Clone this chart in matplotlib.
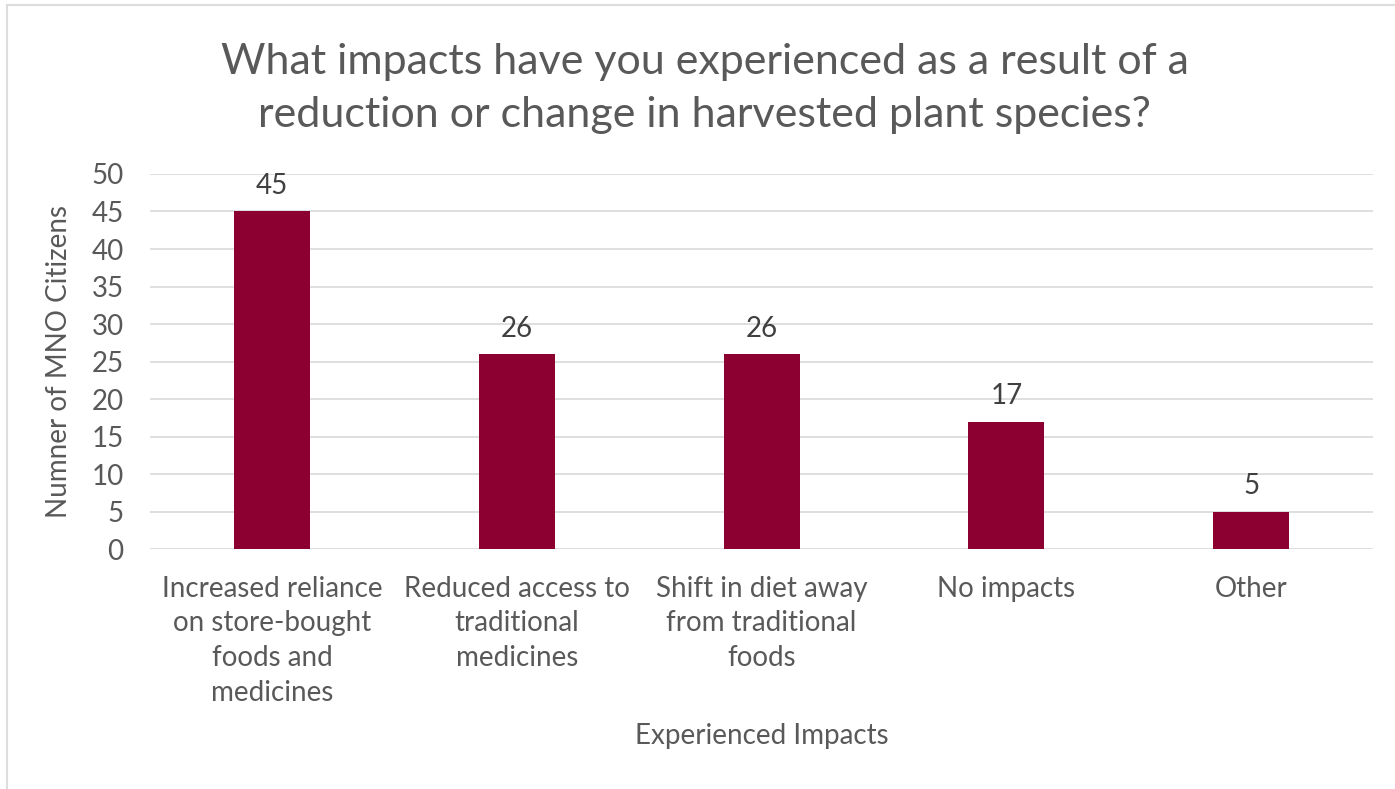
import matplotlib
import matplotlib.pyplot as plt
import numpy as np
from matplotlib.lines import Line2D

matplotlib.use("Agg")

CATEGORIES = [
    "Increased reliance\non store-bought\nfoods and\nmedicines",
    "Reduced access to\ntraditional\nmedicines",
    "Shift in diet away\nfrom traditional\nfoods",
    "No impacts",
    "Other",
]
COUNTS = [45, 26, 26, 17, 5]
Y_TICKS = [0, 5, 10, 15, 20, 25, 30, 35, 40, 45, 50]

TEXT_COLOR = "#595959"
BAR_COLOR = "#8B0030"
GRID_COLOR = "#d9d9d9"

plt.rcParams["font.family"] = ["Lato", "DejaVu Sans"]


def main() -> None:
    fig = plt.figure(figsize=(13.95, 7.89), dpi=100)
    ax = fig.add_axes([0.1075, 0.304, 0.877, 0.4755])

    x = np.arange(len(CATEGORIES))
    bars = ax.bar(x, COUNTS, width=0.31, color=BAR_COLOR, zorder=3)
    for bar, value in zip(bars, COUNTS):
        ax.annotate(
            str(value),
            (bar.get_x() + bar.get_width() / 2.0, value),
            xytext=(0, 9),
            textcoords="offset points",
            ha="center",
            va="bottom",
            fontsize=20,
            color="#404040",
        )

    ax.set_xlim(-0.5, len(CATEGORIES) - 0.5)
    ax.set_ylim(0, 50)
    ax.set_yticks(Y_TICKS)
    ax.set_xticks(x)
    ax.set_xticklabels(CATEGORIES, linespacing=1.42)
    ax.tick_params(axis="both", length=0, labelsize=20, labelcolor=TEXT_COLOR)
    ax.tick_params(axis="x", pad=19)
    ax.tick_params(axis="y", pad=19)
    ax.grid(axis="y", color=GRID_COLOR, linewidth=1.2, zorder=0)
    for spine in ax.spines.values():
        spine.set_visible(False)

    ax.set_xlabel("Experienced Impacts", fontsize=20, color=TEXT_COLOR, labelpad=12)
    ax.set_ylabel("Numner of MNO Citizens", fontsize=20, color=TEXT_COLOR, labelpad=14)

    fig.text(
        0.505,
        0.888,
        "What impacts have you experienced as a result of a\nreduction or change in harvested plant species?",
        ha="center",
        va="center",
        fontsize=31,
        color=TEXT_COLOR,
        linespacing=1.47,
    )

    # light frame around the chart area (top and left edges visible)
    fig.add_artist(Line2D([7 / 1395, 1.0], [1 - 5 / 789, 1 - 5 / 789],
                          transform=fig.transFigure, color="#dddddd", linewidth=1.5))
    fig.add_artist(Line2D([7 / 1395, 7 / 1395], [0.0, 1 - 5 / 789],
                          transform=fig.transFigure, color="#dddddd", linewidth=1.5))

    fig.savefig("out.png", dpi=100, facecolor="white")
    plt.close(fig)


if __name__ == "__main__":
    main()
